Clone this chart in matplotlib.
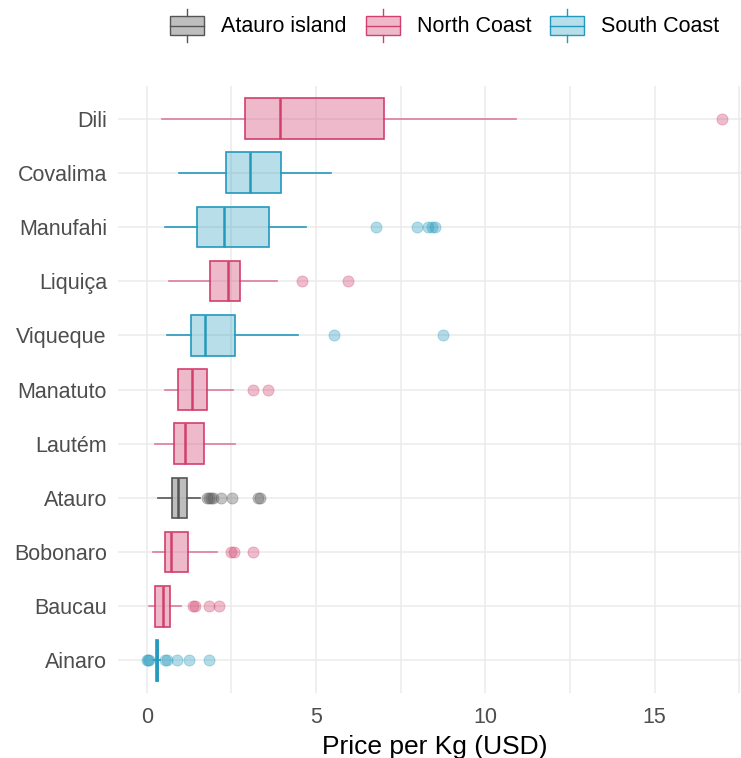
import matplotlib
matplotlib.use("Agg")
import matplotlib.pyplot as plt
from matplotlib.colors import to_rgba
from matplotlib.patches import Patch, Rectangle
from matplotlib.lines import Line2D
from matplotlib.legend_handler import HandlerBase

plt.rcParams['font.family'] = ['Liberation Sans', 'DejaVu Sans']

# municipalities from top to bottom, with their coast group
districts = ['Dili', 'Covalima', 'Manufahi', 'Liquiça', 'Viqueque', 'Manatuto',
             'Lautém', 'Atauro', 'Bobonaro', 'Baucau', 'Ainaro']
groups = ['North Coast', 'South Coast', 'South Coast', 'North Coast', 'South Coast',
          'North Coast', 'North Coast', 'Atauro island', 'North Coast', 'North Coast',
          'South Coast']

# box statistics, price per kg (USD)
whisker_low = [0.44, 0.95, 0.53, 0.65, 0.61, 0.54, 0.24, 0.33, 0.17, 0.06, 0.22]
q1 = [2.90, 2.34, 1.48, 1.86, 1.30, 0.92, 0.79, 0.76, 0.55, 0.25, 0.26]
median = [3.93, 3.05, 2.28, 2.41, 1.71, 1.33, 1.12, 0.93, 0.73, 0.47, 0.29]
q3 = [7.00, 3.96, 3.60, 2.75, 2.61, 1.78, 1.69, 1.18, 1.23, 0.68, 0.32]
whisker_high = [10.9, 5.44, 4.70, 3.85, 4.46, 2.56, 2.61, 1.57, 2.07, 1.02, 0.38]
outliers = [
    [17.0],
    [],
    [6.78, 7.99, 8.31, 8.43, 8.52],
    [4.60, 5.94],
    [5.53, 8.76],
    [3.15, 3.58],
    [],
    [1.79, 1.84, 1.89, 1.96, 2.20, 2.52, 3.29, 3.35],
    [2.50, 2.58, 3.15],
    [1.37, 1.41, 1.84, 2.14],
    [0.0, 0.03, 0.06, 0.55, 0.60, 0.90, 1.25, 1.84],
]

legend_order = ['Atauro island', 'North Coast', 'South Coast']
line_colors = {'Atauro island': '#555555', 'North Coast': '#D23F6C', 'South Coast': '#2399BD'}
fill_alpha = {'Atauro island': 0.38, 'North Coast': 0.36, 'South Coast': 0.32}


class BoxKeyHandler(HandlerBase):
    def create_artists(self, legend, orig_handle, xdescent, ydescent,
                       width, height, fontsize, trans):
        face = orig_handle.get_facecolor()
        edge = orig_handle.get_edgecolor()
        x0, y0 = -xdescent, -ydescent
        bh = height * 0.56
        by = y0 + (height - bh) / 2
        box = Rectangle((x0, by), width, bh, facecolor=face, edgecolor=edge,
                        linewidth=1.0, transform=trans)
        mid = Line2D([x0, x0 + width], [y0 + height / 2] * 2, color=edge,
                     linewidth=1.0, transform=trans)
        low = Line2D([x0 + width / 2] * 2, [y0, by], color=edge,
                     linewidth=1.0, transform=trans)
        high = Line2D([x0 + width / 2] * 2, [by + bh, y0 + height], color=edge,
                      linewidth=1.0, transform=trans)
        return [box, mid, low, high]


fig = plt.figure(figsize=(7.41, 7.58), dpi=100)
ax = fig.add_axes([118 / 741, 65 / 758, 633 / 741, 607 / 758])

n = len(districts)
positions = list(range(n, 0, -1))

for i in range(n):
    g = groups[i]
    stats = [{
        'whislo': whisker_low[i], 'q1': q1[i], 'med': median[i],
        'q3': q3[i], 'whishi': whisker_high[i], 'fliers': outliers[i],
    }]
    lc = line_colors[g]
    wh_alpha = 0.65 if g == 'North Coast' else 1.0
    ax.bxp(stats, positions=[positions[i]], vert=False, widths=0.75,
           patch_artist=True, showcaps=False,
           boxprops=dict(facecolor=to_rgba(lc, fill_alpha[g]), edgecolor=lc,
                         linewidth=1.2),
           medianprops=dict(color=lc, linewidth=1.8),
           whiskerprops=dict(color=lc, linewidth=1.2, alpha=wh_alpha),
           flierprops=dict(marker='o', markersize=8, markerfacecolor=lc,
                           markeredgecolor=lc, markeredgewidth=0.6, alpha=0.35,
                           linestyle='none'),
           zorder=3)

ax.set_xlim(-0.85, 17.85)
ax.set_ylim(0.4, n + 0.6)
ax.set_xticks([0, 5, 10, 15])
ax.set_xticks([2.5, 7.5, 12.5, 17.5], minor=True)
ax.set_yticks(positions)
ax.set_yticklabels(districts)

ax.grid(True, which='both', axis='x', color='#EBEBEB', linewidth=1.1, zorder=0)
ax.grid(True, which='major', axis='y', color='#EBEBEB', linewidth=1.1, zorder=0)
ax.set_axisbelow(True)
for s in ax.spines.values():
    s.set_visible(False)
ax.tick_params(axis='both', which='both', length=0, labelsize=15.5,
               labelcolor='#4D4D4D')
ax.tick_params(axis='y', pad=8)
ax.tick_params(axis='x', pad=10)
ax.set_xlabel('Price per Kg (USD)', fontsize=19, color='black', labelpad=5)

handles = [Patch(facecolor=to_rgba(line_colors[g], fill_alpha[g]),
                 edgecolor=line_colors[g]) for g in legend_order]
fig.legend(handles, legend_order, handler_map={Patch: BoxKeyHandler()},
           loc='upper center', bbox_to_anchor=(445 / 741, 1 - 9 / 758),
           ncol=3, frameon=False, fontsize=15.5, handlelength=1.58,
           handleheight=2.0, handletextpad=0.79, columnspacing=0.88,
           borderpad=0, borderaxespad=0)

fig.savefig('out.png', dpi=100)
